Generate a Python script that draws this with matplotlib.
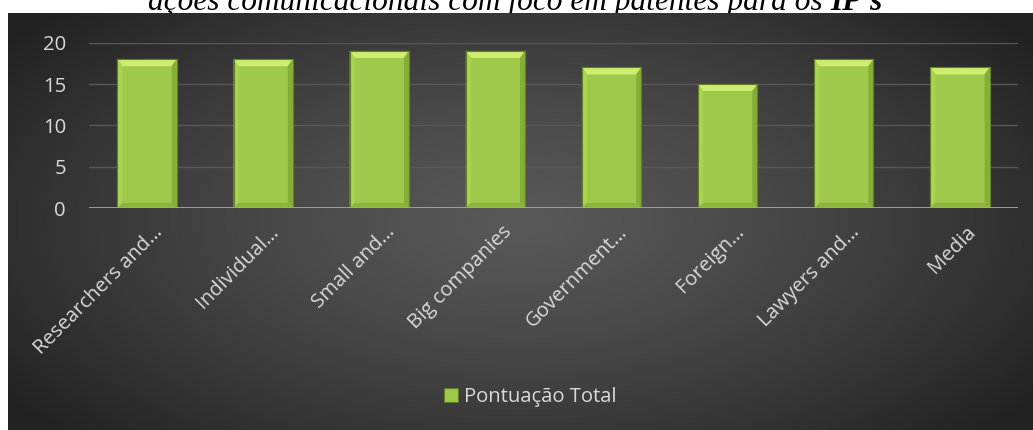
import numpy as np
import matplotlib
matplotlib.use("Agg")
import matplotlib.pyplot as plt
from matplotlib.patches import Polygon, Patch
from matplotlib.transforms import ScaledTranslation

categories = ["Researchers and…", "Individual…", "Small and…", "Big companies",
              "Government…", "Foreign…", "Lawyers and…", "Media"]
values = [18, 18, 19, 19, 17, 15, 18, 17]
series_name = "Pontuação Total"
yticks = [0, 5, 10, 15, 20]
title_main = "ações comunicacionais com foco em patentes para os "
title_bold = "IP's"

W, H = 1033, 430
FS = 14.6
fig = plt.figure(figsize=(W / 100, H / 100), dpi=100)
fig.patch.set_facecolor("white")

# Title (its upper part sits above the image edge in the reference)
t1 = fig.text(148 / W, 1 - 10 / H, title_main, family="Liberation Serif", style="italic",
              fontsize=22.6, ha="left", va="baseline", color="black", zorder=0)
fig.canvas.draw()
bb = t1.get_window_extent()
fig.text(bb.x1 / W, 1 - 10 / H, title_bold, family="Liberation Serif", style="italic",
         weight="bold", fontsize=22.6, ha="left", va="baseline", color="black", zorder=0)

# Dark radial gradient panel
bg = fig.add_axes([8 / W, 0, 1 - 8 / W, 1 - 13 / H], zorder=1)
ny, nx = 200, 400
yy, xx = np.mgrid[0:1:ny * 1j, 0:1:nx * 1j]
r = np.sqrt(((xx - 0.5) / 0.62) ** 2 + ((yy - 0.5) / 0.75) ** 2)
r = np.clip(r, 0, 1)
c0, c1 = 0x58 / 255, 0x22 / 255
img = c0 + (c1 - c0) * r ** 1.3
bg.imshow(np.dstack([img, img, img]), aspect="auto", extent=[0, 1, 0, 1], origin="lower")
bg.set_axis_off()

ax = fig.add_axes([89 / W, 1 - 208 / H, (1018 - 89) / W, (208 - 42.7) / H], zorder=2)
ax.patch.set_alpha(0)
x = np.arange(len(categories))
bw = 0.51
ax.set_xlim(-0.5, len(categories) - 0.5)
ax.set_ylim(0, 20)
ax.set_yticks(yticks)
for yv in yticks[1:]:
    ax.axhline(yv, color="#585858", lw=1.0, zorder=1)
ax.axhline(0, color="#a6a6a6", lw=2.0, zorder=4)

bars = ax.bar(x, values, width=bw, color="#9fc94a", edgecolor="#5f7f25", lw=0.8, zorder=3)

# bevel effect
td = ax.transData
inv = td.inverted()
for rect in bars:
    x0d, y0d = rect.get_x(), rect.get_y()
    x1d, y1d = x0d + rect.get_width(), y0d + rect.get_height()
    (px0, py0), (px1, py1) = td.transform([(x0d, y0d), (x1d, y1d)])
    bt, bs = 7, 5
    polys = [
        ([(px0, py1), (px1, py1), (px1 - bs, py1 - bt), (px0 + bs, py1 - bt)], "#cdec70"),
        ([(px0, py0), (px0, py1), (px0 + bs, py1 - bt), (px0 + bs, py0 + bs)], "#aad352"),
        ([(px1, py0), (px1, py1), (px1 - bs, py1 - bt), (px1 - bs, py0 + bs)], "#85ad37"),
        ([(px0, py0), (px1, py0), (px1 - bs, py0 + bs), (px0 + bs, py0 + bs)], "#8db53e"),
    ]
    for pts, col in polys:
        ax.add_patch(Polygon(inv.transform(pts), closed=True, facecolor=col,
                             edgecolor="none", zorder=3.5))
    ax.add_patch(Polygon(inv.transform([(px0, py0), (px1, py0), (px1, py1), (px0, py1)]),
                         closed=True, facecolor="none", edgecolor="#5f7f25", lw=0.8, zorder=3.6))

for s in ax.spines.values():
    s.set_visible(False)
ax.tick_params(axis="both", length=0, colors="#d9d9d9", labelsize=FS)
ax.tick_params(axis="y", pad=16.5)
for lab in ax.get_yticklabels():
    lab.set_family("Open Sans")
ax.set_xticks(x)
ax.set_xticklabels(categories, rotation=45, ha="right", va="center",
                   rotation_mode="anchor", family="Open Sans", fontsize=FS, color="#d9d9d9")
off = ScaledTranslation(13 / 100, -16 / 100, fig.dpi_scale_trans)
for lab in ax.get_xticklabels():
    lab.set_transform(lab.get_transform() + off)

handle = Patch(facecolor="#9fc94a", edgecolor="#5f7f25", lw=0.8)
leg = fig.legend([handle], [series_name], loc="center", bbox_to_anchor=(530 / W, 1 - 397 / H),
                 frameon=False, prop={"family": "Open Sans", "size": FS},
                 handlelength=0.7, handleheight=0.7, handletextpad=0.3, labelcolor="#d9d9d9")
leg.set_zorder(5)

fig.savefig("out.png", dpi=100, facecolor=fig.get_facecolor())
